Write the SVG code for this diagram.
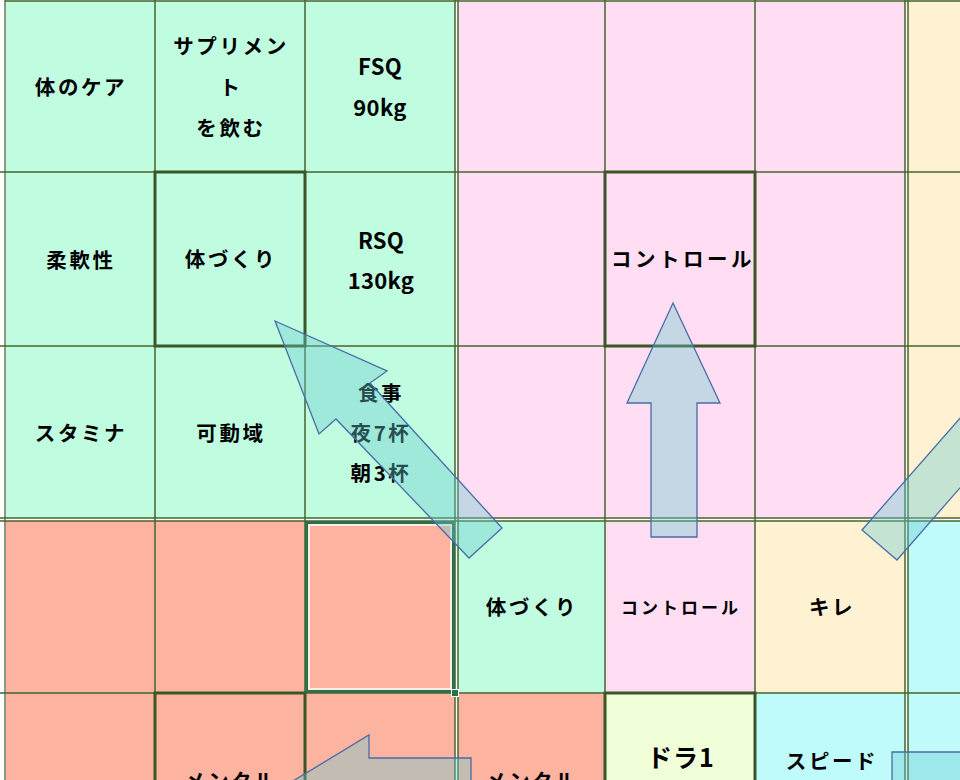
<svg xmlns="http://www.w3.org/2000/svg" width="960" height="780" viewBox="0 0 960 780">
<style>
.t{font-family:"Noto Sans CJK JP","Noto Sans",sans-serif;font-weight:bold;font-size:20.5px;letter-spacing:2.6px;text-anchor:middle;dominant-baseline:central;fill:#000}
.l{font-family:"Noto Sans CJK JP","Noto Sans",sans-serif;font-weight:bold;font-size:22px;letter-spacing:0.3px;text-anchor:middle;dominant-baseline:central;fill:#000}
.g{fill:#C0FCE0}.p{fill:#FFDDF2}.c{fill:#FFF2D3}.s{fill:#FCB3A0}.y{fill:#C0FBFC}.w{fill:#F0FFD8}
.grid line{stroke:#46652C;stroke-width:1.5}
.thick{fill:none;stroke:#3B5626;stroke-width:3}
.arrow{fill:rgb(102,202,208);fill-opacity:0.38;stroke:#4A6BA8;stroke-width:1.3;stroke-linejoin:miter}
</style>
<rect width="960" height="780" fill="#fff"/>
<!-- cells -->
<g id="r0c0"><rect class="g" x="5" y="1" width="150" height="171"/><text class="t" x="81" y="86">体のケア</text></g>
<g id="r0c1"><rect class="g" x="155" y="1" width="150" height="171"/><text class="t" x="231" y="45">サプリメン</text><text class="t" x="231" y="86">ト</text><text class="t" x="231" y="127">を飲む</text></g>
<g id="r0c2"><rect class="g" x="305" y="1" width="150" height="171"/><text class="l" x="380" y="65">FSQ</text><text class="l" x="380" y="106">90kg</text></g>
<g id="r1c0"><rect class="g" x="5" y="172" width="150" height="174"/><text class="t" x="81" y="259">柔軟性</text></g>
<g id="r1c1"><rect class="g" x="155" y="172" width="150" height="174"/><text class="t" x="231" y="258">体づくり</text></g>
<g id="r1c2"><rect class="g" x="305" y="172" width="150" height="174"/><text class="l" x="381" y="239">RSQ</text><text class="l" x="381" y="279">130kg</text></g>
<g id="r2c0"><rect class="g" x="5" y="346" width="150" height="172"/><text class="t" x="81" y="432">スタミナ</text></g>
<g id="r2c1"><rect class="g" x="155" y="346" width="150" height="172"/><text class="t" x="231" y="432">可動域</text></g>
<g id="r2c2"><rect class="g" x="305" y="346" width="150" height="172"/><text class="t" x="381" y="392">食事</text><text class="t" x="381" y="432">夜7杯</text><text class="t" x="381" y="472">朝3杯</text></g>
<g id="r0c3"><rect class="p" x="458" y="1" width="147" height="171"/></g>
<g id="r0c4"><rect class="p" x="605" y="1" width="150" height="171"/></g>
<g id="r0c5"><rect class="p" x="755" y="1" width="150" height="171"/></g>
<g id="r1c3"><rect class="p" x="458" y="172" width="147" height="174"/></g>
<g id="r1c4"><rect class="p" x="605" y="172" width="150" height="174"/><text class="t" x="683" y="258" style="letter-spacing:3.5px">コントロール</text></g>
<g id="r1c5"><rect class="p" x="755" y="172" width="150" height="174"/></g>
<g id="r2c3"><rect class="p" x="458" y="346" width="147" height="172"/></g>
<g id="r2c4"><rect class="p" x="605" y="346" width="150" height="172"/></g>
<g id="r2c5"><rect class="p" x="755" y="346" width="150" height="172"/></g>
<g id="r0c6"><rect class="c" x="908" y="1" width="52" height="171"/></g>
<g id="r1c6"><rect class="c" x="908" y="172" width="52" height="174"/></g>
<g id="r2c6"><rect class="c" x="908" y="346" width="52" height="172"/></g>
<g id="r3c0"><rect class="s" x="5" y="521" width="150" height="172"/></g>
<g id="r3c1"><rect class="s" x="155" y="521" width="150" height="172"/></g>
<g id="r3c2"><rect class="s" x="305" y="521" width="150" height="172"/></g>
<g id="r3c3"><rect class="g" x="458" y="521" width="147" height="172"/><text class="t" x="532" y="606">体づくり</text></g>
<g id="r3c4"><rect class="p" x="605" y="521" width="150" height="172"/><text class="t" x="681" y="606" style="font-size:17px;letter-spacing:3px">コントロール</text></g>
<g id="r3c5"><rect class="c" x="755" y="521" width="150" height="172"/><text class="t" x="832" y="606">キレ</text></g>
<g id="r3c6"><rect class="y" x="908" y="521" width="52" height="172"/></g>
<g id="r4c0"><rect class="s" x="5" y="693" width="150" height="87"/></g>
<g id="r4c1"><rect class="s" x="155" y="693" width="150" height="87"/><text class="t" x="231" y="780">メンタル</text></g>
<g id="r4c2"><rect class="s" x="305" y="693" width="150" height="87"/></g>
<g id="r4c3"><rect class="s" x="458" y="693" width="147" height="87"/><text class="t" x="532" y="780">メンタル</text></g>
<g id="r4c4"><rect class="w" x="605" y="693" width="150" height="87"/><text class="t" x="681" y="756" style="font-size:25px;letter-spacing:1px">ドラ1</text></g>
<g id="r4c5"><rect class="y" x="755" y="693" width="150" height="87"/><text class="t" x="832" y="760">スピード</text></g>
<g id="r4c6"><rect class="y" x="908" y="693" width="52" height="87"/></g>
<!-- grid -->
<g class="grid">
<line x1="5" y1="0" x2="5" y2="780" style="stroke:#8a9a80;stroke-width:2"/>
<line x1="155" y1="0" x2="155" y2="780"/>
<line x1="305" y1="0" x2="305" y2="780"/>
<line x1="455" y1="0" x2="455" y2="780"/>
<line x1="458" y1="0" x2="458" y2="780"/>
<line x1="605" y1="0" x2="605" y2="780"/>
<line x1="755" y1="0" x2="755" y2="780"/>
<line x1="905" y1="0" x2="905" y2="780"/>
<line x1="908" y1="0" x2="908" y2="780"/>
<line x1="5" y1="1" x2="960" y2="1"/>
<line x1="0" y1="172" x2="960" y2="172"/>
<line x1="0" y1="346" x2="960" y2="346"/>
<line x1="0" y1="518" x2="960" y2="518"/>
<line x1="0" y1="521" x2="960" y2="521"/>
<line x1="0" y1="693" x2="960" y2="693"/>
</g>
<g id="thick-boxes">
<rect class="thick" x="155" y="172" width="150" height="174"/>
<rect class="thick" x="605" y="172" width="150" height="174"/>
<rect class="thick" x="155" y="693" width="150" height="100"/>
<rect class="thick" x="605" y="693" width="150" height="100"/>
</g>
<g id="selection">
<rect x="306.5" y="522.5" width="147" height="169" fill="none" stroke="#2A7048" stroke-width="3"/>
<rect x="309" y="525" width="142" height="164" fill="none" stroke="#fff" stroke-width="1.5"/>
<rect x="451.5" y="689.5" width="7" height="7" fill="#2A7048" stroke="#fff" stroke-width="1"/>
</g>
<!-- connectors -->
<g id="connectors">
<polygon class="arrow" points="275,321 387,371 370,383 502,528 469,558 336,419 319,434"/>
<polygon class="arrow" points="673,303 720,403 697,403 697,537 651,537 651,403 627,403"/>
<polygon class="arrow" points="862,530 1062,302 1097,331 897,560"/>
<polygon class="arrow" points="293,781 369,735 369,758 471,758 471,804 369,804 369,827"/>
<polygon class="arrow" points="892,752 1000,752 1000,820 892,820"/>
</g>
</svg>
